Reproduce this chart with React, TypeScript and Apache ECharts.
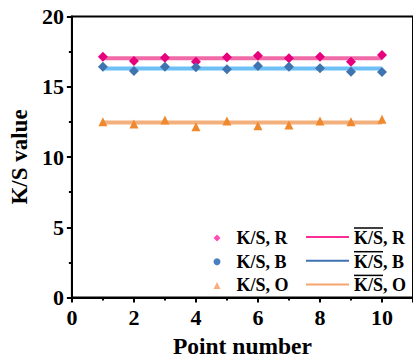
import React, { useEffect, useRef } from "react";
import * as echarts from "echarts";

const points = [1, 2, 3, 4, 5, 6, 7, 8, 9, 10];
const ksR = [17.14, 16.83, 17.07, 16.78, 17.1, 17.21, 17.02, 17.14, 16.78, 17.26];
const ksB = [16.43, 16.12, 16.43, 16.38, 16.24, 16.48, 16.43, 16.31, 16.07, 16.05];
const ksO = [12.51, 12.35, 12.63, 12.16, 12.56, 12.23, 12.28, 12.56, 12.51, 12.68];
const meanR = 17.03;
const meanB = 16.3;
const meanO = 12.45;

const nameR = "K/S, R";
const nameB = "K/S, B";
const nameO = "K/S, O";
const mNameR = "mean K/S, R";
const mNameB = "mean K/S, B";
const mNameO = "mean K/S, O";
const meanLabels: Record<string, string> = {
  [mNameR]: ", R",
  [mNameB]: ", B",
  [mNameO]: ", O",
};

const FONT = "'Liberation Serif', 'Times New Roman', serif";

export default function App() {
  const ref = useRef<HTMLDivElement>(null);
  useEffect(() => {
    if (!ref.current) return;
    const chart = echarts.init(ref.current, undefined, { renderer: "svg" });
    const pts = (arr: number[]) => points.map((p, i) => [p, arr[i]]);
    const meanLine = (m: number) => [
      [points[0], m],
      [points[points.length - 1], m],
    ];
    const legendText = {
      fontFamily: FONT,
      fontWeight: "bold" as const,
      fontSize: 18,
      color: "#000",
      lineHeight: 18,
    };
    chart.setOption({
      animation: false,
      grid: {
        left: 70.5,
        right: -7,
        top: 16.5,
        bottom: 65.5,
        show: true,
        borderColor: "#000",
        borderWidth: 2,
        backgroundColor: "transparent",
      },
      legend: [
        {
          orient: "vertical",
          left: 208.5,
          top: 224,
          itemWidth: 7,
          itemHeight: 7,
          itemGap: 5.7,
          textStyle: { ...legendText, padding: [0, 0, 0, 11] },
          data: [
            { name: nameR, icon: "diamond", itemStyle: { color: "#ff4db5" } },
            { name: nameB, icon: "circle", itemStyle: { color: "#4a80bf" } },
            { name: nameO, icon: "triangle", itemStyle: { color: "#f7b07c" } },
          ],
        },
        {
          orient: "vertical",
          left: 300,
          top: 222,
          itemWidth: 43,
          itemHeight: 7,
          itemGap: 3.7,
          textStyle: {
            ...legendText,
            rich: {
              ol: { width: 29, height: 1.5, lineHeight: 2, backgroundColor: "#000", fontSize: 1 },
              t: { fontFamily: FONT, fontWeight: "bold", fontSize: 18, lineHeight: 18, color: "#000" },
            },
          },
          formatter: (n: string) => `{ol| }\n{t|K/S${meanLabels[n] || ""}}`,
          data: [
            { name: mNameR, lineStyle: { color: "#ff2c94", width: 2 }, itemStyle: { opacity: 0 } },
            { name: mNameB, lineStyle: { color: "#3f72b2", width: 2 }, itemStyle: { opacity: 0 } },
            { name: mNameO, lineStyle: { color: "#f5a56e", width: 2 }, itemStyle: { opacity: 0 } },
          ],
        },
      ],
      xAxis: {
        type: "value",
        min: 0,
        max: 11,
        interval: 2,
        name: "Point number",
        nameLocation: "middle",
        nameGap: 36,
        nameTextStyle: { fontFamily: FONT, fontWeight: "bold", fontSize: 23.5, color: "#000" },
        axisLine: { show: true, lineStyle: { color: "#000", width: 2 } },
        axisTick: { show: true, length: 5, lineStyle: { color: "#000", width: 2 } },
        minorTick: { show: true, splitNumber: 2, length: 3, lineStyle: { color: "#000", width: 2 } },
        splitLine: { show: false },
        axisLabel: {
          fontFamily: FONT,
          fontWeight: "bold",
          fontSize: 22,
          color: "#000",
          margin: 9,
          showMaxLabel: false,
          formatter: (v: number) => (v > 10 ? "" : String(v)),
        },
      },
      yAxis: {
        type: "value",
        min: 0,
        max: 20,
        interval: 5,
        name: "K/S value",
        nameLocation: "middle",
        nameGap: 40,
        nameTextStyle: { fontFamily: FONT, fontWeight: "bold", fontSize: 23, color: "#000" },
        axisLine: { show: true, lineStyle: { color: "#000", width: 2 } },
        axisTick: { show: true, length: 5, lineStyle: { color: "#000", width: 2 } },
        minorTick: { show: true, splitNumber: 2, length: 3, lineStyle: { color: "#000", width: 2 } },
        splitLine: { show: false },
        axisLabel: {
          fontFamily: FONT,
          fontWeight: "bold",
          fontSize: 22,
          color: "#000",
          margin: 8,
        },
      },
      series: [
        {
          name: mNameR,
          type: "line",
          data: meanLine(meanR),
          symbol: "none",
          z: 1,
          lineStyle: { color: "#f06aa8", width: 4 },
          itemStyle: { color: "#ff2c94" },
        },
        {
          name: mNameB,
          type: "line",
          data: meanLine(meanB),
          symbol: "none",
          z: 1,
          lineStyle: { color: "#6cc0f5", width: 4 },
          itemStyle: { color: "#3f72b2" },
        },
        {
          name: mNameO,
          type: "line",
          data: meanLine(meanO),
          symbol: "none",
          z: 1,
          lineStyle: { color: "#f3b07c", width: 4 },
          itemStyle: { color: "#f5a56e" },
        },
        {
          name: nameR,
          type: "scatter",
          data: pts(ksR),
          symbol: "diamond",
          symbolSize: 10,
          z: 3,
          itemStyle: { color: "#e6007e", opacity: 1 },
        },
        {
          name: nameB,
          type: "scatter",
          data: pts(ksB),
          symbol: "diamond",
          symbolSize: 10,
          z: 3,
          itemStyle: { color: "#3f74b0", opacity: 1 },
        },
        {
          name: nameO,
          type: "scatter",
          data: pts(ksO),
          symbol: "triangle",
          symbolSize: 9,
          z: 3,
          itemStyle: { color: "#f0892e", opacity: 1 },
        },
      ],
    });
    return () => chart.dispose();
  }, []);
  return (
    <div
      ref={ref}
      style={{ position: "absolute", left: 0, top: 0, width: 413, height: 363 }}
    />
  );
}
